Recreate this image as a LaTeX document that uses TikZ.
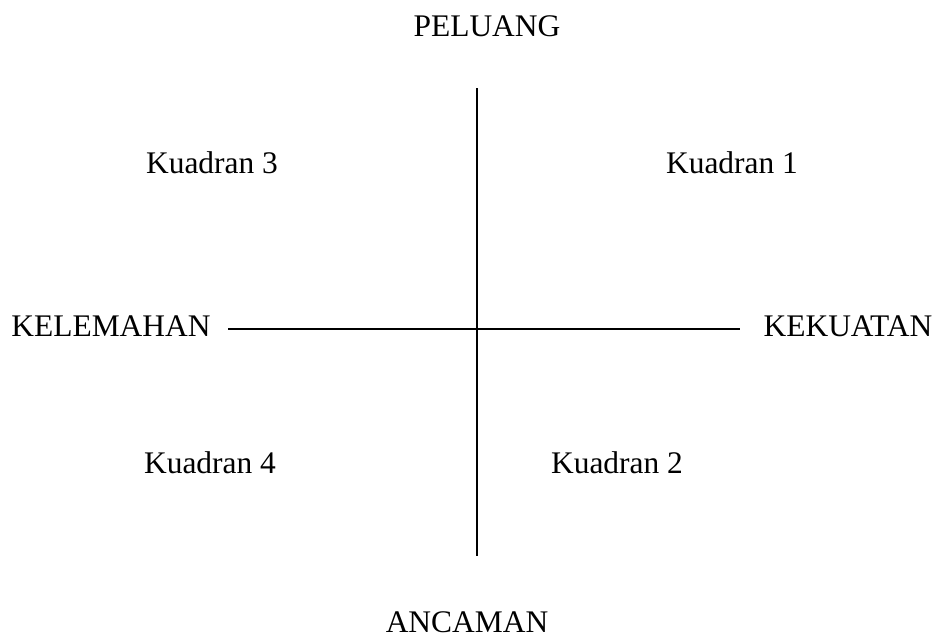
\documentclass[tikz,border=0pt]{standalone}
\usepackage{fontspec}
\setmainfont{Liberation Serif}
\begin{document}
\begin{tikzpicture}[x=0.02cm, y=-0.02cm]
    % Define axis position
    \def\axisX{477}
    \def\axisY{329}

    \definecolor{axisColour}{HTML}{000000}

    \tikzset{
        label/.style={anchor=base, inner sep=0pt, font=\fontsize{17.9}{20}\selectfont},
        axis/.style={draw=axisColour, line width=1.1pt}
    }

    % Fix picture size
    \useasboundingbox (0,0) rectangle (941,640);

    % Axis end points
    \coordinate (top) at (\axisX,88);
    \coordinate (bottom) at (\axisX,556);
    \coordinate (left) at (228,\axisY);
    \coordinate (right) at (740,\axisY);

    % Draw axes
    \draw[axis] (top) -- (bottom);
    \draw[axis] (left) -- (right);

    % Label axes
    \node[label] (peluang) at (487,36) {PELUANG};
    \node[label] (ancaman) at (467,632) {ANCAMAN};
    \node[label] (kelemahan) at (111,336) {KELEMAHAN};
    \node[label] (kekuatan) at (848,336) {KEKUATAN};

    % Label quadrants
    \node[label] (q1) at (732,173) {Kuadran 1};
    \node[label] (q2) at (617,473) {Kuadran 2};
    \node[label] (q3) at (212,173) {Kuadran 3};
    \node[label] (q4) at (210,473) {Kuadran 4};

\end{tikzpicture}
\end{document}
